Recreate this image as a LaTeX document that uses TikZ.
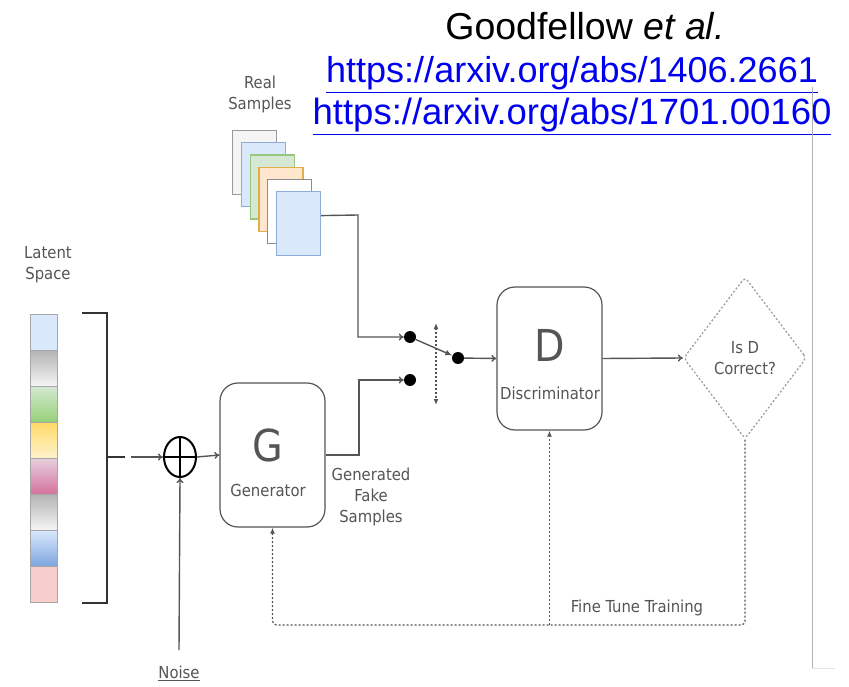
\documentclass[tikz,border=0pt]{standalone}
\usepackage{fontspec}
\setmainfont{Liberation Sans}
\newfontfamily\diagfont{DejaVu Sans Condensed}
\usetikzlibrary{shapes.geometric,arrows.meta}
\definecolor{inkgray}{HTML}{555555}
\definecolor{linkblue}{HTML}{0000F0}
\definecolor{paleblue}{HTML}{DAE8FC}
\definecolor{edgeblue}{HTML}{8EACD8}
\definecolor{midblue}{HTML}{7EA6E0}
\definecolor{palegreen}{HTML}{D5E8D4}
\definecolor{edgegreen}{HTML}{97C77E}
\definecolor{midgreen}{HTML}{97D077}
\definecolor{paleorange}{HTML}{FFE6CC}
\definecolor{edgeorange}{HTML}{E0AE4A}
\definecolor{gold}{HTML}{FFD966}
\definecolor{paleyellow}{HTML}{FFF2CC}
\definecolor{palepink}{HTML}{E6D0DE}
\definecolor{midpink}{HTML}{D5739D}
\definecolor{palered}{HTML}{F8CECC}
\definecolor{palegray}{HTML}{F5F5F5}
\definecolor{midgray}{HTML}{B3B3B3}

\begin{document}
\begin{tikzpicture}[x=1pt,y=-1pt,
    conn/.style={draw=inkgray,line width=1.4pt,-{To[length=5pt,width=7pt]}},
    fb/.style={draw=inkgray,line width=1.2pt,dash pattern=on 2pt off 2pt,-{Latex[length=6pt,width=5pt]}},
    lbl/.style={text=inkgray,font=\diagfont\fontsize{16.5}{21}\selectfont,align=center},
    block/.style={draw=inkgray,line width=1.2pt,rounded corners=18pt,minimum width=105pt,minimum height=144pt},
    card/.style={line width=1.2pt,minimum width=44pt,minimum height=64pt,anchor=north west,inner sep=0pt},
    cell/.style={draw=gray!70,line width=0.8pt,minimum width=27pt,minimum height=36pt,inner sep=0pt},
    swdot/.style={circle,fill=black,minimum width=10pt,minimum height=12pt,inner sep=0pt}]
    \useasboundingbox (0,0) rectangle (849,687);
    % header
    \node[anchor=base,font=\fontsize{37.5}{40}\selectfont](ref)at(585,40){Goodfellow \textit{et al.}};
    \node[anchor=base,text=linkblue,font=\fontsize{36}{40}\selectfont](arx1)at(572,83){\underline{https://arxiv.org/abs/1406.2661}};
    \node[anchor=base,text=linkblue,font=\fontsize{36.5}{40}\selectfont](arx2)at(572,125){\underline{https://arxiv.org/abs/1701.00160}};
    \draw[gray!60,line width=0.8pt] (812,87) -- (812,668);
    \draw[gray!20,line width=0.8pt] (812,668) -- (835,668);
    % real samples
    \node[lbl](real)at(260,94){Real\\Samples};
    \foreach \i/\fc/\dc in {0/palegray/gray!80,1/paleblue/edgeblue,2/palegreen/edgegreen,3/paleorange/edgeorange,4/white/gray!90,5/paleblue/edgeblue}
        \node[card,fill=\fc,draw=\dc](card\i)at(232+8.8*\i,130+12.2*\i){};
    % latent space
    \node[lbl](latent)at(48,265){Latent\\Space};
    \foreach \i/\tc/\bc in {1/paleblue/paleblue,2/midgray/palegray,3/palegreen/midgreen,4/gold/paleyellow,5/palepink/midpink,6/midgray/palegray,7/paleblue/midblue,8/palered/palered}
        \node[cell,top color=\tc,bottom color=\bc](cell\i)at(43.5,296+36*\i){};
    \coordinate (btop) at (107,313);
    \coordinate (bbot) at (107,603);
    \coordinate (bmid) at (107,457);
    \draw[black!80,line width=2.4pt] (82,313) -- (btop) -- (bbot) -- (82,603);
    \draw[black!80,line width=2pt] (bmid) -- (125,457);
    \coordinate (bgap) at (131,457);
    % noise and sum
    \node[draw=black,line width=2pt,ellipse,minimum width=32pt,minimum height=40pt,inner sep=0pt](plus)at(180,457){};
    \draw[black,line width=2pt] (plus.north) -- (plus.south) (plus.west) -- (plus.east);
    \node[lbl](noise)at(179,673){\underline{Noise}};
    \draw[conn] (bgap) -- (plus.west);
    \draw[conn] ([yshift=12pt]noise.north) -- (plus.south);
    % generator
    \node[block](gen)at(272.5,455){};
    \node[text=inkgray,font=\diagfont\fontsize{44}{44}\selectfont](gl)at(268,445){G};
    \node[lbl](gname)at(268,490){Generator};
    \node[lbl](fake)at(371,497){Generated\\Fake\\Samples};
    \draw[conn] (plus.east) -- (gen.west);
    % switch
    \node[swdot](s1)at(410,337){};
    \node[swdot](s2)at(410,380){};
    \node[swdot](s3)at(458,358){};
    \coordinate (swtop) at (436,323);
    \coordinate (swbot) at (436,405);
    \draw[conn] ([yshift=8pt]card5.east) -- (358,215) -- (358,337) -- (s1);
    \draw[conn] (gen.east) -- (359,455) -- (359,380) -- (s2);
    \draw[inkgray,line width=1.4pt,-{Latex[length=7pt,width=6pt]}] (s1) -- (s3);
    \draw[fb,{Latex[length=6pt,width=5pt]}-{Latex[length=6pt,width=5pt]}] (swtop) -- (swbot);
    % discriminator
    \node[block,minimum height=143pt](disc)at(549.5,358.5){};
    \node[text=inkgray,font=\diagfont\fontsize{44}{44}\selectfont](dl)at(550,345){D};
    \node[lbl](dname)at(550,393){Discriminator};
    \draw[conn] (s3) -- (disc.west);
    \node[diamond,draw=gray!80,line width=1.2pt,dash pattern=on 2pt off 2pt,rounded corners=4pt,minimum width=123pt,minimum height=162pt,inner sep=0pt,lbl](dia)at(745,358){Is D\\Correct?};
    \draw[conn] (disc.east) -- (dia.west);
    % feedback loop
    \coordinate (fbcorner) at (745,625);
    \draw[fb,rounded corners=4pt] (dia.south) -- (fbcorner) -| (gen.south);
    \draw[fb] (disc.south |- fbcorner) -- (disc.south);
    \node[lbl](tune)at(637,608){Fine Tune Training};
\end{tikzpicture}
\end{document}
